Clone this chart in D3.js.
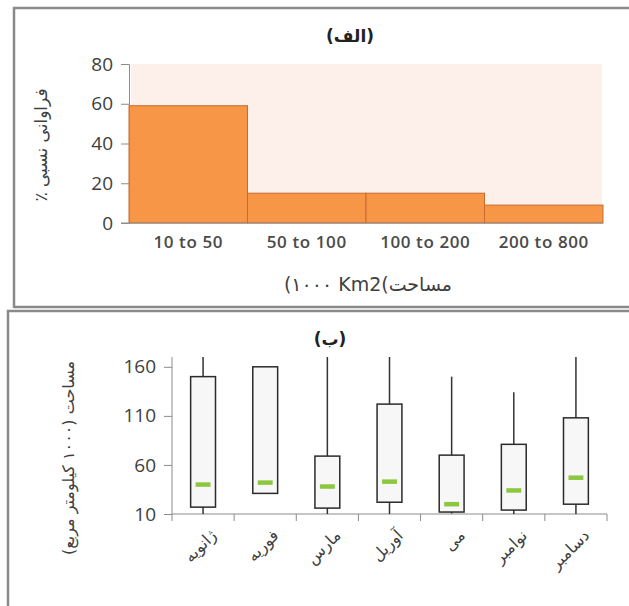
<!DOCTYPE html>
<html><head><meta charset="utf-8">
<script src="https://cdn.jsdelivr.net/npm/d3@7"></script>
<style>
html,body{margin:0;padding:0;background:#fff;}
svg{display:block;}
</style></head>
<body>
<svg id="c" width="629" height="606"></svg>
<script>
// ---------- Data ----------
const bins = ["10 to 50", "50 to 100", "100 to 200", "200 to 800"];
const freq = [59, 15, 15, 9];
const freqTicks = [0, 20, 40, 60, 80];

const months = ["ژانویه", "فوریه", "مارس", "آوریل", "می", "نوامبر", "دسامبر"];
const whiskerLow = [10, 31, 10, 10, 10.5, 10, 10];
const q1 = [17, 31, 16, 22, 12, 14, 20];
const median = [40, 42, 38, 43, 20, 34, 47];
const q3 = [150, 160, 69, 122, 70, 81, 108];
const whiskerHigh = [170, 160, 170, 170, 150, 134, 170];
const areaTicks = [10, 60, 110, 160];

const titleA = "(الف)";
const titleB = "(ب)";
const yLabelA = "فراوانی نسبی ٪";
const xLabelA = "(۱۰۰۰ Km2(مساحت";
const yLabelB = "مساحت (۱۰۰۰ کیلومتر مربع)";

const svg = d3.select("#c");
const arFont = "'DejaVu Sans', sans-serif";
const numFont = "'Open Sans', 'Liberation Sans', sans-serif";
const axisCol = "#8c8c8c";
const txtCol = "#404040";

// ---------- Panel borders ----------
svg.append("path").attr("d", "M14,308 L14,8 L640,8").attr("fill", "none").attr("stroke", "#8a8a8a").attr("stroke-width", 2.5);
svg.append("line").attr("x1", 14).attr("x2", 640).attr("y1", 307).attr("y2", 307).attr("stroke", "#8a8a8a").attr("stroke-width", 2.5);
svg.append("path").attr("d", "M8,620 L8,311 L640,311").attr("fill", "none").attr("stroke", "#8a8a8a").attr("stroke-width", 2.5);

// ---------- Chart A ----------
const gA = svg.append("g");
const xA = d3.scaleBand().domain(bins).range([129, 603]).padding(0);
const yA = d3.scaleLinear().domain([0, 80]).range([223, 64]);

gA.append("rect").attr("x", 131).attr("y", yA(80)).attr("width", 602 - 131).attr("height", yA(0) - yA(80)).attr("fill", "#fdefe9");

gA.selectAll("rect.bar").data(bins).enter().append("rect").attr("class", "bar")
  .attr("x", d => xA(d)).attr("y", (d, i) => yA(freq[i]))
  .attr("width", xA.bandwidth()).attr("height", (d, i) => yA(0) - yA(freq[i]))
  .attr("fill", "#f79646").attr("stroke", "#c96b2c").attr("stroke-width", 1);

const yAxisA = gA.append("g").attr("transform", "translate(129,0)")
  .call(d3.axisLeft(yA).tickValues(freqTicks).tickSize(8).tickPadding(8));
yAxisA.select(".domain").attr("stroke", axisCol);
yAxisA.selectAll(".tick line").attr("stroke", axisCol);
yAxisA.selectAll(".tick text").attr("font-family", numFont).attr("font-size", 19).attr("fill", txtCol);

const xAxisA = gA.append("g").attr("transform", "translate(0,223)")
  .call(d3.axisBottom(xA).tickSize(0).tickPadding(13));
xAxisA.select(".domain").attr("stroke", axisCol).attr("d", "M121,0H603");
xAxisA.selectAll(".tick text").attr("font-family", numFont).attr("font-size", 17).attr("font-weight", 600)
  .attr("fill", "#4a4a4a").attr("letter-spacing", 0.6);

gA.append("text").attr("x", 350).attr("y", 42).attr("text-anchor", "middle")
  .attr("font-family", arFont).attr("font-weight", "bold").attr("font-size", 17).attr("fill", "#222").text(titleA);
gA.append("text").attr("transform", "translate(47,145) rotate(-90)").attr("text-anchor", "middle").attr("direction", "rtl")
  .attr("font-family", arFont).attr("font-size", 17).attr("fill", txtCol).text(yLabelA);
gA.append("text").attr("x", 368).attr("y", 291).attr("text-anchor", "middle").attr("direction", "ltr")
  .attr("font-family", arFont).attr("font-size", 19).attr("fill", txtCol).text(xLabelA);

// ---------- Chart B ----------
const gB = svg.append("g");
const xB = d3.scaleBand().domain(months).range([172, 607]).padding(0);
const yB = d3.scaleLinear().domain([10, 170]).range([514, 357]);
const bw = xB.bandwidth() * 0.4;

const yAxisB = gB.append("g").attr("transform", "translate(172,0)")
  .call(d3.axisLeft(yB).tickValues(areaTicks).tickSize(8).tickPadding(8));
yAxisB.select(".domain").attr("stroke", axisCol).attr("d", "M0,357V514");
yAxisB.selectAll(".tick line").attr("stroke", axisCol);
yAxisB.selectAll(".tick text").attr("font-family", numFont).attr("font-size", 19).attr("fill", txtCol);

const xAxisB = gB.append("g").attr("transform", "translate(0,514)")
  .call(d3.axisBottom(xB).tickSize(0).tickFormat(""));
xAxisB.select(".domain").attr("stroke", axisCol).attr("d", "M172,0H607");
gB.selectAll("line.sep").data(months.concat(["end"])).enter().append("line").attr("class", "sep")
  .attr("x1", (d, i) => i < months.length ? xB(d) : xB.range()[1])
  .attr("x2", (d, i) => i < months.length ? xB(d) : xB.range()[1])
  .attr("y1", 514).attr("y2", 521).attr("stroke", axisCol);

const box = gB.selectAll("g.box").data(months).enter().append("g").attr("class", "box")
  .attr("transform", d => `translate(${xB(d) + xB.bandwidth() / 2},0)`);
box.append("line").attr("x1", 0).attr("x2", 0)
  .attr("y1", (d, i) => yB(whiskerHigh[i])).attr("y2", (d, i) => yB(whiskerLow[i]))
  .attr("stroke", "#333").attr("stroke-width", 1.5);
box.append("rect").attr("x", -bw / 2).attr("width", bw)
  .attr("y", (d, i) => yB(q3[i])).attr("height", (d, i) => yB(q1[i]) - yB(q3[i]))
  .attr("fill", "#f7f7f7").attr("stroke", "#2b2b2b").attr("stroke-width", 1.5);
box.append("line").attr("x1", -bw * 0.3).attr("x2", bw * 0.3)
  .attr("y1", (d, i) => yB(median[i])).attr("y2", (d, i) => yB(median[i]))
  .attr("stroke", "#8dc63f").attr("stroke-width", 4.5);

box.append("text").attr("transform", "translate(6,528) rotate(-45)").attr("text-anchor", "end")
  .attr("dy", "0.75em").attr("font-family", arFont).attr("font-size", 16).attr("fill", txtCol).text(d => d);

gB.append("text").attr("x", 330).attr("y", 345).attr("text-anchor", "middle")
  .attr("font-family", arFont).attr("font-weight", "bold").attr("font-size", 17).attr("fill", "#222").text(titleB);
gB.append("text").attr("transform", "translate(74,458) rotate(-90)").attr("text-anchor", "middle").attr("direction", "rtl")
  .attr("font-family", arFont).attr("font-size", 16).attr("fill", txtCol).text(yLabelB);
</script>
</body></html>
